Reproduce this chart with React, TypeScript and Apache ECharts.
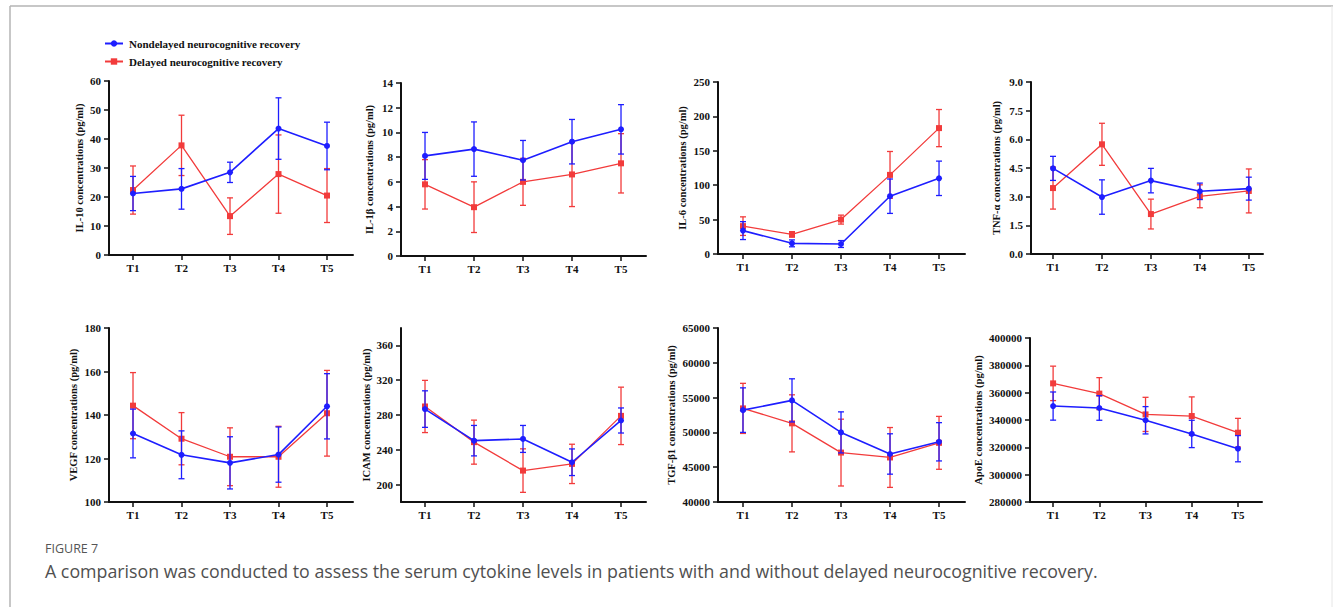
import React, { useEffect, useRef } from 'react';
import * as echarts from 'echarts';

// ---------- data ----------
const categories = ['T1', 'T2', 'T3', 'T4', 'T5'];
const seriesNames = ['Nondelayed neurocognitive recovery', 'Delayed neurocognitive recovery'];

const il10Non = [21.2, 22.8, 28.5, 43.6, 37.6];
const il10NonSd = [5.9, 7.0, 3.5, 10.6, 8.2];
const il10Del = [22.4, 37.8, 13.4, 27.9, 20.5];
const il10DelSd = [8.3, 10.4, 6.3, 13.5, 9.3];

const il1bNon = [8.1, 8.65, 7.75, 9.25, 10.25];
const il1bNonSd = [1.9, 2.2, 1.6, 1.8, 2.0];
const il1bDel = [5.8, 3.95, 6.0, 6.6, 7.5];
const il1bDelSd = [2.0, 2.05, 1.9, 2.6, 2.4];

const il6Non = [34, 15.5, 14.5, 84, 110];
const il6NonSd = [13, 5, 5, 25, 25];
const il6Del = [40.5, 28.5, 50, 115, 183];
const il6DelSd = [13.5, 4, 6.5, 34, 27];

const tnfNon = [4.48, 2.98, 3.84, 3.28, 3.42];
const tnfNonSd = [0.63, 0.9, 0.64, 0.43, 0.6];
const tnfDel = [3.45, 5.74, 2.09, 3.02, 3.3];
const tnfDelSd = [1.1, 1.1, 0.78, 0.6, 1.15];

const vegfNon = [131.5, 121.7, 118.0, 121.8, 144.0];
const vegfNonSd = [11.2, 11.0, 12.0, 12.7, 15.0];
const vegfDel = [144.3, 129.1, 120.8, 120.8, 140.8];
const vegfDelSd = [15.2, 12.0, 13.3, 14.0, 19.7];

const icamNon = [286.8, 250.5, 252.5, 225.7, 273.7];
const icamNonSd = [21, 17.5, 15.5, 15.3, 14.4];
const icamDel = [289.8, 248.8, 216.1, 223.8, 279.0];
const icamDelSd = [30, 25.3, 25, 22.6, 33];

const tgfNon = [53200, 54600, 50000, 46900, 48650];
const tgfNonSd = [3200, 3100, 2950, 2900, 2750];
const tgfDel = [53450, 51300, 47100, 46400, 48500];
const tgfDelSd = [3600, 4100, 4800, 4300, 3800];

const apoeNon = [350200, 348800, 339800, 329800, 319000];
const apoeNonSd = [10300, 9000, 10000, 10000, 9600];
const apoeDel = [366800, 359300, 344100, 342900, 330700];
const apoeDelSd = [12600, 11700, 12500, 14000, 10500];

const yNames = [
  'IL-10 concentrations (pg/ml)',
  'IL-1β concentrations (pg/ml)',
  'IL-6 concentrations (pg/ml)',
  'TNF-α concentrations (pg/ml)',
  'VEGF concentrations (pg/ml)',
  'ICAM concentrations (pg/ml)',
  'TGF-β1 concentrations (pg/ml)',
  'ApoE concentrations (pg/ml)',
];

const captionLabel = 'FIGURE 7';
const captionText =
  'A comparison was conducted to assess the serum cytokine levels in patients with and without delayed neurocognitive recovery.';

// ---------- layout / styling ----------
const BLUE = '#1e1eff';
const RED = '#f23b3b';
const SERIF = "'Liberation Serif', 'DejaVu Serif', serif";

type Panel = {
  name: string;
  non: number[]; nonSd: number[]; del: number[]; delSd: number[];
  yMin: number; yMax: number; interval?: number; yTicks?: number[];
  fmt?: (v: number) => string;
  left: number; top: number; width: number; height: number;
  xMin: number; xMax: number; nameGap: number;
};

const panels: Panel[] = [
  { name: yNames[0], non: il10Non, nonSd: il10NonSd, del: il10Del, delSd: il10DelSd,
    yMin: 0, yMax: 60, interval: 10, left: 109, top: 81, width: 244, height: 174, xMin: 0.505, xMax: 5.536, nameGap: 24 },
  { name: yNames[1], non: il1bNon, nonSd: il1bNonSd, del: il1bDel, delSd: il1bDelSd,
    yMin: 0, yMax: 14, interval: 2, left: 401, top: 83, width: 245, height: 173, xMin: 0.51, xMax: 5.51, nameGap: 26 },
  { name: yNames[2], non: il6Non, nonSd: il6NonSd, del: il6Del, delSd: il6DelSd,
    yMin: 0, yMax: 250, interval: 50, left: 718, top: 82, width: 247, height: 172, xMin: 0.49, xMax: 5.53, nameGap: 30 },
  { name: yNames[3], non: tnfNon, nonSd: tnfNonSd, del: tnfDel, delSd: tnfDelSd,
    yMin: 0, yMax: 9, interval: 1.5, fmt: (v) => v.toFixed(1), left: 1031, top: 82, width: 232, height: 172, xMin: 0.55, xMax: 5.29, nameGap: 29 },
  { name: yNames[4], non: vegfNon, nonSd: vegfNonSd, del: vegfDel, delSd: vegfDelSd,
    yMin: 100, yMax: 180, interval: 20, left: 109, top: 328, width: 244, height: 174, xMin: 0.505, xMax: 5.536, nameGap: 30 },
  { name: yNames[5], non: icamNon, nonSd: icamNonSd, del: icamDel, delSd: icamDelSd,
    yMin: 180, yMax: 380, yTicks: [200, 240, 280, 320, 360], left: 401, top: 328, width: 245, height: 174, xMin: 0.51, xMax: 5.51, nameGap: 29 },
  { name: yNames[6], non: tgfNon, nonSd: tgfNonSd, del: tgfDel, delSd: tgfDelSd,
    yMin: 40000, yMax: 65000, interval: 5000, left: 718, top: 328, width: 247, height: 174, xMin: 0.49, xMax: 5.53, nameGap: 41 },
  { name: yNames[7], non: apoeNon, nonSd: apoeNonSd, del: apoeDel, delSd: apoeDelSd,
    yMin: 280000, yMax: 400000, interval: 20000, left: 1030, top: 338, width: 232, height: 164, xMin: 0.5, xMax: 5.52, nameGap: 46 },
];

const tickValues = categories.map((_, i) => i + 1);

function errorSeries(idx: number, means: number[], sds: number[], color: string, z: number) {
  return {
    type: 'custom',
    xAxisIndex: idx,
    yAxisIndex: idx,
    z,
    silent: true,
    encode: { x: 0, y: [1, 2] },
    data: means.map((m, i) => [i + 1, m - sds[i], m + sds[i]]),
    renderItem: (params: any, api: any) => {
      const x = api.value(0);
      const lo = api.coord([x, api.value(1)]);
      const hi = api.coord([x, api.value(2)]);
      const w = 3;
      const style = { stroke: color, lineWidth: 1.3 };
      return {
        type: 'group',
        children: [
          { type: 'line', shape: { x1: lo[0], y1: lo[1], x2: hi[0], y2: hi[1] }, style },
          { type: 'line', shape: { x1: lo[0] - w, y1: lo[1], x2: lo[0] + w, y2: lo[1] }, style },
          { type: 'line', shape: { x1: hi[0] - w, y1: hi[1], x2: hi[0] + w, y2: hi[1] }, style },
        ],
      };
    },
  };
}

function lineSeries(idx: number, name: string, means: number[], color: string, symbol: string, z: number, width: number) {
  return {
    type: 'line',
    name,
    xAxisIndex: idx,
    yAxisIndex: idx,
    z,
    symbol,
    symbolSize: 6,
    showSymbol: true,
    data: means.map((m, i) => [i + 1, m]),
    lineStyle: { color, width },
    itemStyle: { color },
  };
}

export default function App() {
  const ref = useRef<HTMLDivElement>(null);

  useEffect(() => {
    if (!ref.current) return;
    const chart = echarts.init(ref.current, undefined, { renderer: 'svg' });

    const axisLine = { show: true, lineStyle: { color: '#111', width: 2 } };
    const axisTick = { show: true, length: 5, lineStyle: { color: '#111', width: 1.5 } };
    const labelStyle = { color: '#111', fontFamily: SERIF, fontWeight: 'bold' as const, fontSize: 11 };

    const grids = panels.map((p) => ({
      left: p.left, top: p.top, width: p.width, height: p.height,
      containLabel: false, outerBoundsMode: 'none',
    }));

    const xAxes = panels.map((p, i) => ({
      type: 'value',
      gridIndex: i,
      min: p.xMin,
      max: p.xMax,
      axisLine,
      axisTick: { ...axisTick, customValues: tickValues },
      splitLine: { show: false },
      axisLabel: {
        ...labelStyle,
        margin: 7,
        customValues: tickValues,
        formatter: (v: number) => categories[Math.round(v) - 1] ?? '',
      },
    }));

    const yAxes = panels.map((p, i) => {
      const base: any = {
        type: 'value',
        gridIndex: i,
        min: p.yMin,
        max: p.yMax,
        name: p.name,
        nameLocation: 'middle',
        nameGap: p.nameGap,
        nameTextStyle: { color: '#111', fontFamily: SERIF, fontWeight: 'bold', fontSize: 10.5 },
        axisLine,
        axisTick: { ...axisTick },
        splitLine: { show: false },
        axisLabel: { ...labelStyle, margin: 8, formatter: p.fmt ? p.fmt : (v: number) => String(v) },
      };
      if (p.yTicks) {
        base.axisTick.customValues = p.yTicks;
        base.axisLabel.customValues = p.yTicks;
      } else {
        base.interval = p.interval;
      }
      return base;
    });

    const series: any[] = [];
    panels.forEach((p, i) => {
      series.push(errorSeries(i, p.del, p.delSd, RED, 2));
      series.push(lineSeries(i, seriesNames[1], p.del, RED, 'rect', 3, 1.3));
      series.push(errorSeries(i, p.non, p.nonSd, BLUE, 4));
      series.push(lineSeries(i, seriesNames[0], p.non, BLUE, 'circle', 5, 1.6));
    });

    chart.setOption({
      animation: false,
      backgroundColor: '#ffffff',
      legend: {
        data: seriesNames,
        orient: 'vertical',
        left: 104,
        top: 38,
        padding: 0,
        itemWidth: 18,
        itemHeight: 8,
        itemGap: 7,
        textStyle: { color: '#111', fontFamily: SERIF, fontWeight: 'bold', fontSize: 11, padding: [0, 0, 0, 1] },
      },
      grid: grids,
      xAxis: xAxes,
      yAxis: yAxes,
      series,
      graphic: [
        { type: 'line', shape: { x1: 10, y1: 6, x2: 1333, y2: 6 }, style: { stroke: '#b5b5b5', lineWidth: 1.5 }, silent: true },
        { type: 'line', shape: { x1: 10, y1: 6, x2: 10, y2: 607 }, style: { stroke: '#b5b5b5', lineWidth: 1.5 }, silent: true },
        { type: 'line', shape: { x1: 1332, y1: 6, x2: 1332, y2: 607 }, style: { stroke: '#e6e6e6', lineWidth: 1 }, silent: true },
        {
          type: 'text', x: 45, y: 548,
          style: { text: captionLabel, fill: '#555', fontFamily: "'Open Sans', sans-serif", fontSize: 12.5, verticalAlign: 'middle' },
          silent: true,
        },
        {
          type: 'text', x: 45, y: 571,
          style: { text: captionText, fill: '#505050', fontFamily: "'Open Sans', sans-serif", fontSize: 17.8, verticalAlign: 'middle' },
          silent: true,
        },
      ],
    });

    return () => chart.dispose();
  }, []);

  return (
    <div
      ref={ref}
      style={{ position: 'absolute', left: 0, top: 0, width: 1333, height: 607 }}
    />
  );
}
